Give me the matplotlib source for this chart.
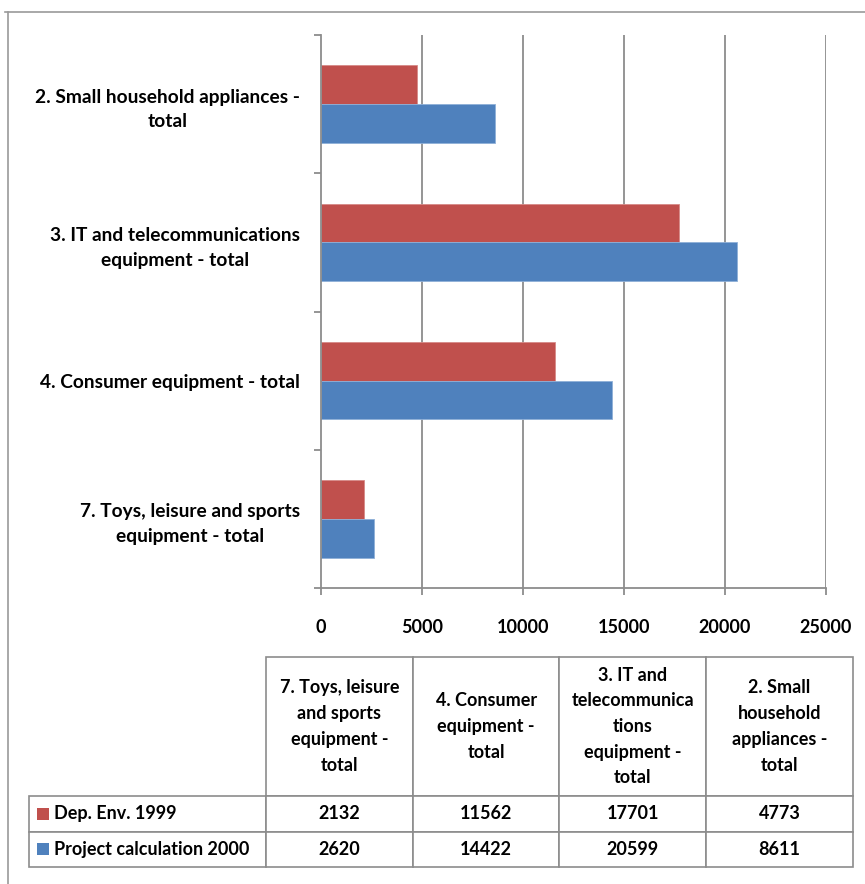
import matplotlib
matplotlib.use('Agg')
import matplotlib.pyplot as plt
from matplotlib.patches import Rectangle
from matplotlib.lines import Line2D
import numpy as np

# categories, bottom to top as drawn on the y axis
categories = [
    '7. Toys, leisure and sports\nequipment - total',
    '4. Consumer equipment - total',
    '3. IT and telecommunications\nequipment - total',
    '2. Small household appliances -\ntotal',
]
table_headers = [
    '7. Toys, leisure\nand sports\nequipment -\ntotal',
    '4. Consumer\nequipment -\ntotal',
    '3. IT and\ntelecommunica\ntions\nequipment -\ntotal',
    '2. Small\nhousehold\nappliances -\ntotal',
]
series_names = ['Dep. Env. 1999', 'Project calculation 2000']
dep_env_1999 = [2132, 11562, 17701, 4773]
project_2000 = [2620, 14422, 20599, 8611]
x_ticks = [0, 5000, 10000, 15000, 20000, 25000]

RED = '#C0504D'
BLUE = '#4F81BD'
GRID = '#8C8C8C'
FONT = 'Lato'

W, H = 865, 884
fig = plt.figure(figsize=(W / 100, H / 100), dpi=100)


def fx(px):
    return px / W


def fy(py):
    return 1 - py / H


# ---- bar chart ----
ax = fig.add_axes([fx(321), fy(588), fx(826) - fx(321), fy(35) - fy(588)])
y = np.arange(len(categories))
bh = 0.28
ax.barh(y + bh / 2, dep_env_1999, height=bh, color=RED,
        edgecolor='#D68A88', linewidth=0.6, zorder=3)
ax.barh(y - bh / 2, project_2000, height=bh, color=BLUE,
        edgecolor='#8FB0D8', linewidth=0.6, zorder=3)

ax.set_xlim(0, 25000)
ax.set_ylim(-0.5, len(categories) - 0.5)
ax.set_xticks(x_ticks)
ax.set_xticklabels([str(v) for v in x_ticks], fontfamily=FONT,
                   fontweight='bold', fontsize=13)
for v in x_ticks[1:]:
    ax.axvline(v, color=GRID, linewidth=1.3, zorder=1)

# y ticks sit on the band edges, labels in the band centres
ax.set_yticks(np.arange(-0.5, len(categories)), minor=False)
ax.set_yticklabels([])
ax.set_yticks(y, minor=True)
ax.set_yticklabels(categories, minor=True, fontfamily=FONT,
                   fontweight='bold', fontsize=13.8, multialignment='center',
                   linespacing=1.55)
ax.tick_params(axis='y', which='minor', length=0, pad=15)
ax.tick_params(axis='y', which='major', length=5, width=1.3, color=GRID)
ax.tick_params(axis='x', length=5, width=1.3, color=GRID, pad=17)

for side in ('top', 'right'):
    ax.spines[side].set_visible(False)
for side in ('left', 'bottom'):
    ax.spines[side].set_color(GRID)
    ax.spines[side].set_linewidth(1.3)
    ax.spines[side].set_zorder(4)

# ---- data table ----
tl, tr, tt, tb = 30, 853, 657, 867
tax = fig.add_axes([fx(tl), fy(tb), fx(tr) - fx(tl), fy(tt) - fy(tb)])
tax.axis('off')

tw, th = tr - tl, tb - tt
label_w = (266 - tl) / tw
col_w = (tr - 266) / tw / 4
head_h = (796 - tt) / th
row_h = (1 - head_h) / 2

cell_text = [[str(v) for v in dep_env_1999], [str(v) for v in project_2000]]
# the bbox covers the value grid only; row labels hang off to its left
tbl = tax.table(cellText=cell_text, rowLabels=series_names,
                colLabels=table_headers, cellLoc='center', rowLoc='left',
                bbox=[label_w, 0, 1 - label_w, 1])
tbl.auto_set_font_size(False)

for (r, c), cell in tbl.get_celld().items():
    cell.set_edgecolor(GRID)
    cell.set_linewidth(1.2)
    cell.set_width(label_w if c == -1 else col_w)
    cell.set_height(head_h if r == 0 else row_h)
    txt = cell.get_text()
    txt.set_fontfamily(FONT)
    txt.set_fontweight('bold')
    txt.set_fontsize(13)
    if r == 0:
        txt.set_linespacing(1.62)
    if c == -1:
        cell.PAD = 25 / 236

for i, colour in enumerate([RED, BLUE]):
    yc = 1 - head_h - row_h * (i + 0.5)
    sq_w, sq_h = 12 / tw, 12 / th
    tax.add_patch(Rectangle((7 / tw, yc - sq_h / 2), sq_w, sq_h,
                            facecolor=colour, edgecolor='none',
                            transform=tax.transAxes, zorder=5))

# outer chart border (left and top edges)
fig.add_artist(Line2D([fx(8), fx(8)], [fy(12), 0], color='#9A9A9A', linewidth=1.2))
fig.add_artist(Line2D([fx(5), 1], [fy(12), fy(12)], color='#9A9A9A', linewidth=1.2))

fig.savefig('out.png', dpi=100, facecolor='white')
